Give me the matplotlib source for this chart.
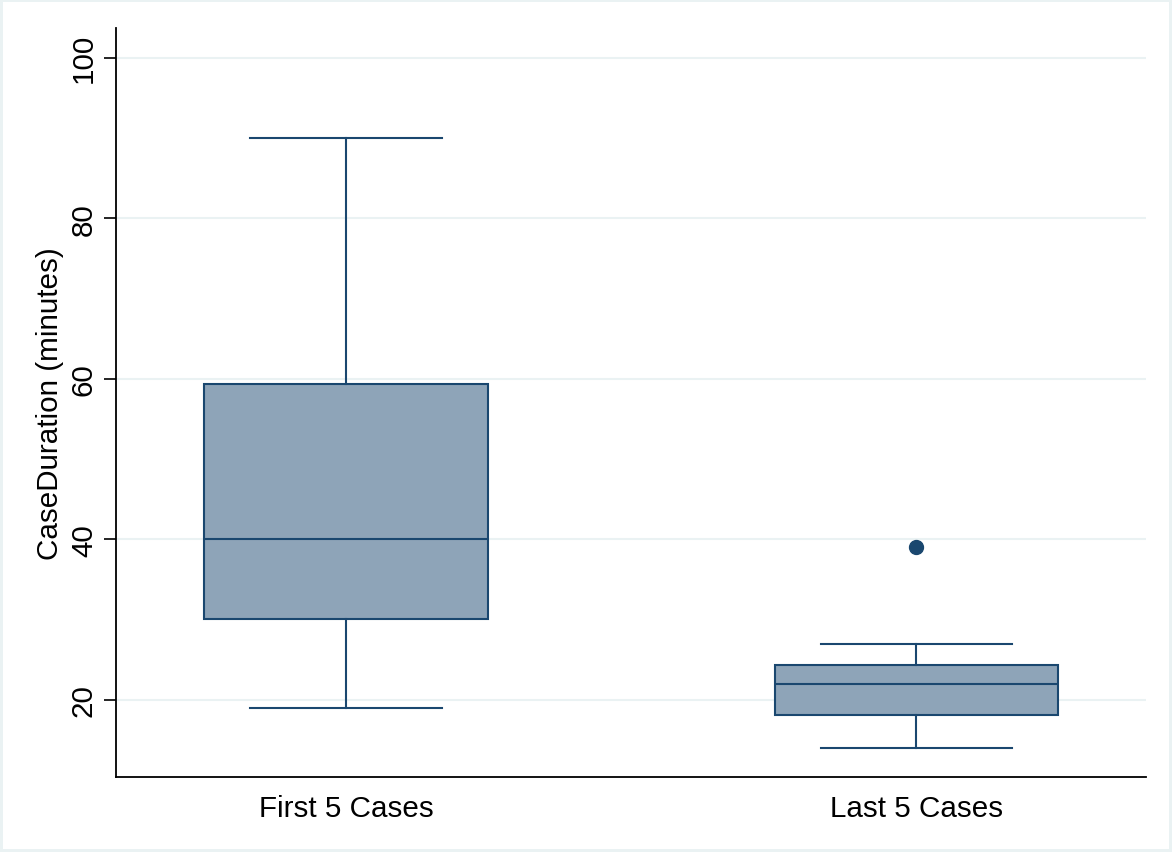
import matplotlib
matplotlib.use("Agg")
import matplotlib.pyplot as plt

# Data
categories = ["First 5 Cases", "Last 5 Cases"]
whisker_low = [19, 14]
q1 = [30, 18.1]
median = [40, 22]
q3 = [59.3, 24.3]
whisker_high = [90, 27]
outliers = [[], [39]]
yticks = [20, 40, 60, 80, 100]

plt.rcParams['font.family'] = ['Liberation Sans', 'DejaVu Sans']

navy = '#1a476f'
fill = '#8ea4b8'
grid = '#eaf2f3'
fs = 21.3

fig = plt.figure(figsize=(11.72, 8.53), dpi=100)
fig.patch.set_facecolor('white')
fig.patch.set_edgecolor(grid)
fig.patch.set_linewidth(3)
ax = fig.add_axes([116/1172, 75/853, (1146-116)/1172, (778-29)/853])

stats = []
for i, c in enumerate(categories):
    stats.append(dict(label=c, whislo=whisker_low[i], q1=q1[i], med=median[i],
                      q3=q3[i], whishi=whisker_high[i], fliers=outliers[i]))

ax.bxp(stats, positions=[1, 2], widths=0.497, capwidths=0.335, patch_artist=True,
       showfliers=True,
       boxprops=dict(facecolor=fill, edgecolor=navy, linewidth=1.5),
       medianprops=dict(color=navy, linewidth=1.5),
       whiskerprops=dict(color=navy, linewidth=1.5),
       capprops=dict(color=navy, linewidth=1.5),
       flierprops=dict(marker='o', markerfacecolor=navy, markeredgecolor=navy,
                       markersize=10))

ax.set_xlim(0.5967, 2.4028)
ax.set_ylim(10.37, 103.7)
ax.set_yticks(yticks)
ax.set_yticklabels([str(t) for t in yticks], rotation=90, va='center', fontsize=fs)
ax.yaxis.grid(True, color=grid, linewidth=1.5)
ax.set_axisbelow(True)
ax.tick_params(axis='y', length=8.5, width=1.2, pad=4.5)
ax.tick_params(axis='x', length=0, pad=12, labelsize=fs)
ax.set_ylabel("CaseDuration (minutes)", fontsize=fs, labelpad=4)

for s in ['top', 'right']:
    ax.spines[s].set_visible(False)
for s in ['left', 'bottom']:
    ax.spines[s].set_linewidth(1.3)
    ax.spines[s].set_color('black')

fig.savefig("out.png", dpi=100, facecolor=fig.get_facecolor(), edgecolor=fig.get_edgecolor())
